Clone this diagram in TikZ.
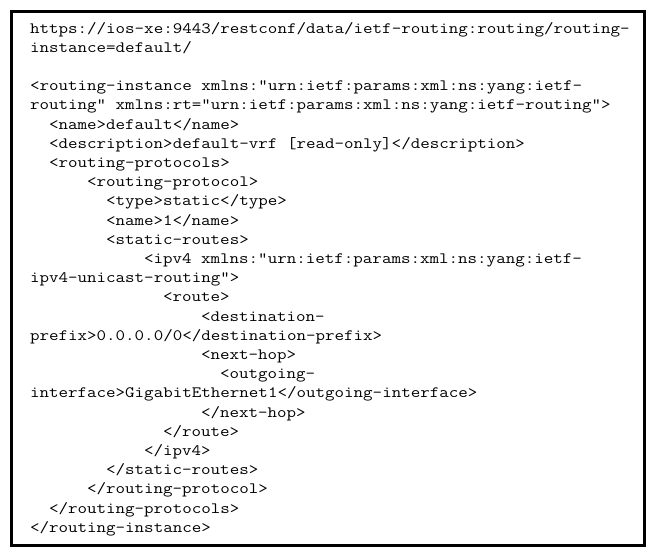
\documentclass[tikz,border=0pt]{standalone}
\usepackage{fontspec}
\newfontfamily\codefont{Latin Modern Mono}[FakeStretch=1.17]
\tikzset{
  codeline/.style={anchor=base west,inner sep=0pt,outer sep=0pt,
    font=\codefont\fontsize{15.8}{19.2}\selectfont}
}
\begin{document}
\begin{tikzpicture}[x=1pt,y=-1pt]
\useasboundingbox (0,0) rectangle (656,558);
\draw[line width=3pt] (11.5,11.5) rectangle (644.5,545.5);

\node[codeline] (l1) at (30,33.0) {https://ios-xe:9443/restconf/data/ietf-routing:routing/routing-};
\node[codeline] (l2) at (30,52.2) {instance=default/};

\node[codeline] (l4) at (30,90.6) {<routing-instance xmlns:"urn:ietf:params:xml:ns:yang:ietf-};
\node[codeline] (l5) at (30,109.8) {routing" xmlns:rt="urn:ietf:params:xml:ns:yang:ietf-routing">};
\node[codeline] (l6) at (49,129.0) {<name>default</name>};
\node[codeline] (l7) at (49,148.2) {<description>default-vrf [read-only]</description>};
\node[codeline] (l8) at (49,167.4) {<routing-protocols>};
\node[codeline] (l9) at (87,186.6) {<routing-protocol>};
\node[codeline] (l10) at (106,205.8) {<type>static</type>};
\node[codeline] (l11) at (106,225.0) {<name>1</name>};
\node[codeline] (l12) at (106,244.2) {<static-routes>};
\node[codeline] (l13) at (144,263.4) {<ipv4 xmlns:"urn:ietf:params:xml:ns:yang:ietf-};
\node[codeline] (l14) at (30,282.6) {ipv4-unicast-routing">};
\node[codeline] (l15) at (163,301.8) {<route>};
\node[codeline] (l16) at (201,321.0) {<destination-};
\node[codeline] (l17) at (30,340.2) {prefix>0.0.0.0/0</destination-prefix>};
\node[codeline] (l18) at (201,359.4) {<next-hop>};
\node[codeline] (l19) at (220,378.6) {<outgoing-};
\node[codeline] (l20) at (30,397.8) {interface>GigabitEthernet1</outgoing-interface>};
\node[codeline] (l21) at (201,417.0) {</next-hop>};
\node[codeline] (l22) at (163,436.2) {</route>};
\node[codeline] (l23) at (144,455.4) {</ipv4>};
\node[codeline] (l24) at (106,474.6) {</static-routes>};
\node[codeline] (l25) at (87,493.8) {</routing-protocol>};
\node[codeline] (l26) at (49,513.0) {</routing-protocols>};
\node[codeline] (l27) at (30,532.2) {</routing-instance>};
\end{tikzpicture}
\end{document}
